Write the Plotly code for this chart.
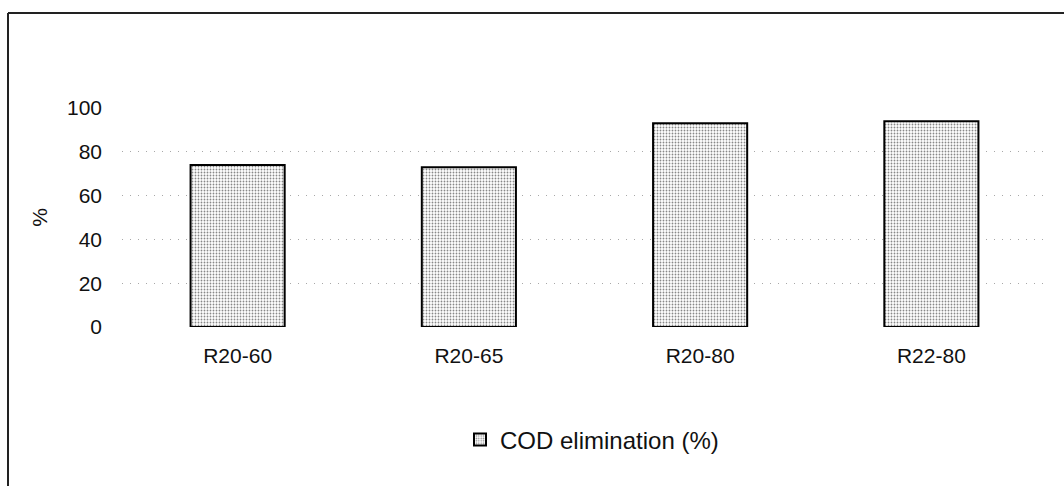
import plotly.graph_objects as go

# Reactor runs and their COD removal
categories = ["R20-60", "R20-65", "R20-80", "R22-80"]
cod_elimination = [74, 73, 93, 94]
y_ticks = [0, 20, 40, 60, 80, 100]

FONT = "Arial, Liberation Sans, sans-serif"

fig = go.Figure()
fig.add_trace(go.Bar(
    x=categories,
    y=cod_elimination,
    name="COD elimination (%)",
    marker=dict(
        color="white",
        line=dict(color="black", width=2),
        pattern=dict(shape=".", fgcolor="#111111", bgcolor="white",
                     size=3, solidity=0.3),
    ),
))

# Outer frame of the chart (top and left edges)
plot_l, plot_r, plot_t, plot_b = 122, 1047, 108, 327
W, H = 1064, 486
pw, ph = plot_r - plot_l, plot_b - plot_t
def px(x):
    return (x - plot_l) / pw
def py(y):
    return (plot_b - y) / ph

fig.add_shape(type="line", xref="paper", yref="paper",
              x0=px(8), x1=px(1064), y0=py(13), y1=py(13),
              line=dict(color="#222222", width=2))
fig.add_shape(type="line", xref="paper", yref="paper",
              x0=px(8), x1=px(8), y0=py(13), y1=py(486),
              line=dict(color="#222222", width=2))

fig.update_layout(
    width=W, height=H,
    margin=dict(l=plot_l, r=W - plot_r, t=plot_t, b=H - plot_b),
    paper_bgcolor="white",
    plot_bgcolor="white",
    font=dict(family=FONT, size=21, color="#111111"),
    bargap=0.593,
    showlegend=True,
    legend=dict(orientation="h", x=px(592), xanchor="center",
                y=py(440), yanchor="middle",
                font=dict(size=24, family=FONT),
                itemwidth=30),
    xaxis=dict(showgrid=False, showline=False, zeroline=False,
               ticks="", ticklabelstandoff=14,
               tickfont=dict(size=21)),
    yaxis=dict(range=[0, 100], tickvals=y_ticks,
               showgrid=True, gridcolor="#a8a8a8", griddash="1px,7px",
               gridwidth=1, zeroline=False, showline=False,
               ticks="", ticklabelstandoff=19,
               tickfont=dict(size=21),
               title=dict(text="%", standoff=13,
                          font=dict(size=21))),
)

fig.write_html("out.html")
